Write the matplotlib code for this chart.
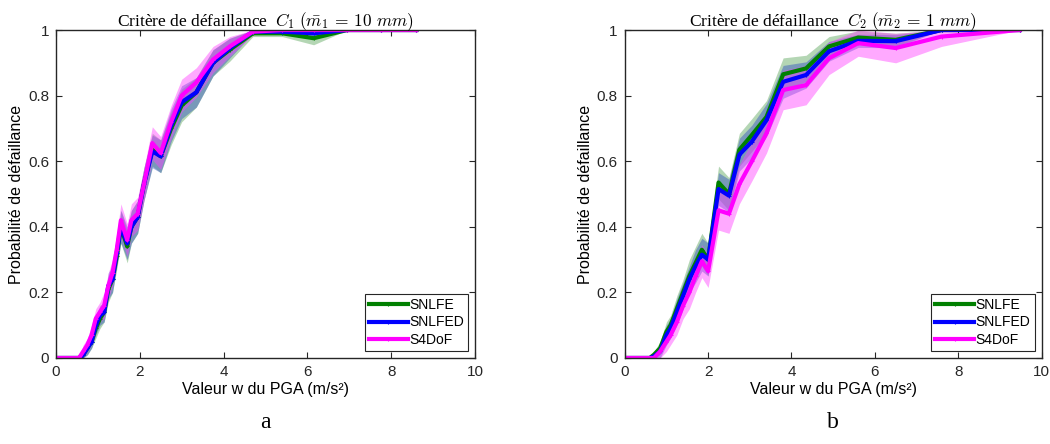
import numpy as np
import matplotlib
matplotlib.use('Agg')
import matplotlib.pyplot as plt

# Courbes de fragilite - critere C1 (panneau a)
pga_a = [0, 0.1, 0.2, 0.3, 0.4, 0.5, 0.55, 0.65, 0.75, 0.85, 0.95, 1.05, 1.15, 1.25,
         1.35, 1.45, 1.55, 1.7, 1.8, 1.95, 2.1, 2.3, 2.5, 2.75, 3.0, 3.35, 3.75, 4.15,
         4.7, 5.4, 6.15, 6.95, 7.75, 8.6]
snlfe_a = [0, 0, 0, 0, 0, 0, 0, 0.01, 0.03, 0.05, 0.09, 0.12, 0.14, 0.21, 0.24, 0.31,
           0.40, 0.34, 0.40, 0.43, 0.53, 0.635, 0.615, 0.70, 0.77, 0.81, 0.90, 0.94,
           0.99, 0.99, 0.975, 1.0, 1.0, 1.0]
snlfed_a = [0, 0, 0, 0, 0, 0, 0, 0.01, 0.03, 0.05, 0.10, 0.13, 0.14, 0.22, 0.24, 0.32,
            0.40, 0.35, 0.40, 0.43, 0.53, 0.63, 0.615, 0.71, 0.78, 0.81, 0.90, 0.945,
            0.995, 0.995, 0.99, 1.0, 1.0, 1.0]
s4dof_a = [0, 0, 0, 0, 0, 0, 0, 0.02, 0.04, 0.07, 0.12, 0.14, 0.16, 0.22, 0.26, 0.33,
           0.42, 0.36, 0.42, 0.44, 0.53, 0.655, 0.625, 0.72, 0.80, 0.84, 0.91, 0.95,
           0.995, 1.0, 1.0, 1.0, 1.0, 1.0]
# demi-largeur des bandes de confiance
ic_snlfe_a = [0, 0, 0, 0, 0, 0, 0, 0.01, 0.02, 0.02, 0.03, 0.03, 0.03, 0.04, 0.04, 0.04,
              0.05, 0.05, 0.05, 0.05, 0.05, 0.05, 0.05, 0.05, 0.05, 0.045, 0.04, 0.035,
              0.01, 0.01, 0.02, 0, 0, 0]
ic_snlfed_a = [0, 0, 0, 0, 0, 0, 0, 0.01, 0.02, 0.02, 0.03, 0.03, 0.03, 0.04, 0.04, 0.04,
               0.05, 0.05, 0.05, 0.05, 0.05, 0.05, 0.05, 0.05, 0.05, 0.045, 0.04, 0.03,
               0.005, 0.005, 0.01, 0, 0, 0]
ic_s4dof_a = [0, 0, 0, 0, 0, 0, 0, 0.02, 0.02, 0.03, 0.03, 0.03, 0.04, 0.04, 0.04, 0.05,
              0.05, 0.05, 0.05, 0.05, 0.05, 0.05, 0.05, 0.05, 0.05, 0.045, 0.04, 0.03,
              0.01, 0.005, 0, 0, 0, 0]

# Courbes de fragilite - critere C2 (panneau b)
pga_b = [0, 0.1, 0.2, 0.3, 0.4, 0.5, 0.6, 0.7, 0.85, 1.0, 1.1, 1.25, 1.4, 1.55, 1.7,
         1.85, 2.0, 2.25, 2.5, 2.75, 3.05, 3.4, 3.8, 4.35, 4.9, 5.6, 6.5, 7.6, 9.47]
snlfe_b = [0, 0, 0, 0, 0, 0, 0, 0.01, 0.03, 0.08, 0.10, 0.15, 0.20, 0.25, 0.29, 0.33,
           0.30, 0.535, 0.50, 0.635, 0.68, 0.735, 0.865, 0.883, 0.95, 0.977, 0.97, 1.0, 1.0]
snlfed_b = [0, 0, 0, 0, 0, 0, 0, 0.005, 0.02, 0.07, 0.09, 0.14, 0.19, 0.24, 0.28, 0.315,
            0.30, 0.515, 0.495, 0.62, 0.66, 0.725, 0.842, 0.863, 0.935, 0.967, 0.966, 1.0, 1.0]
s4dof_b = [0, 0, 0, 0, 0, 0, 0, 0, 0.02, 0.05, 0.07, 0.11, 0.16, 0.20, 0.25, 0.295,
           0.265, 0.45, 0.44, 0.53, 0.60, 0.685, 0.817, 0.832, 0.914, 0.96, 0.945, 0.98, 1.0]
ic_snlfe_b = [0, 0, 0, 0, 0, 0, 0, 0.01, 0.02, 0.03, 0.03, 0.04, 0.04, 0.05, 0.05, 0.05,
              0.05, 0.05, 0.05, 0.05, 0.05, 0.05, 0.05, 0.04, 0.03, 0.02, 0.02, 0, 0]
ic_snlfed_b = [0, 0, 0, 0, 0, 0, 0, 0.01, 0.02, 0.03, 0.03, 0.04, 0.04, 0.04, 0.05, 0.05,
               0.05, 0.05, 0.05, 0.05, 0.05, 0.05, 0.05, 0.04, 0.03, 0.02, 0.02, 0, 0]
ic_s4dof_b = [0, 0, 0, 0, 0, 0, 0, 0.01, 0.02, 0.03, 0.03, 0.04, 0.04, 0.05, 0.05, 0.05,
              0.05, 0.06, 0.06, 0.06, 0.06, 0.06, 0.06, 0.06, 0.05, 0.04, 0.045, 0.03, 0]

noms = ['SNLFE', 'SNLFED', 'S4DoF']
couleurs = ['#008000', '#0000ff', '#ff00ff']
couleurs_bande = ['#5aa55a', '#3050c0', '#ff40ff']
titres = [r'Critère de défaillance  $C_1$ $(\bar{m}_1\,=\,10\ mm)$',
          r'Critère de défaillance  $C_2$ $(\bar{m}_2\,=\,1\ mm)$']
lettres = ['a', 'b']

plt.rcParams['mathtext.fontset'] = 'cm'
plt.rcParams['font.family'] = 'Liberation Sans'

fig = plt.figure(figsize=(10.5, 4.44), dpi=100)
ax1 = fig.add_axes([0.0533, 0.1937, 0.399, 0.7387])
ax2 = fig.add_axes([0.595, 0.1937, 0.397, 0.7387])

panneaux = [
    (ax1, pga_a, [snlfe_a, snlfed_a, s4dof_a], [ic_snlfe_a, ic_snlfed_a, ic_s4dof_a]),
    (ax2, pga_b, [snlfe_b, snlfed_b, s4dof_b], [ic_snlfe_b, ic_snlfed_b, ic_s4dof_b]),
]

for k, (ax, x, series, ics) in enumerate(panneaux):
    x = np.asarray(x)
    # bandes d'abord
    for y, ic, cb in zip(series, ics, couleurs_bande):
        y = np.asarray(y)
        ic = np.asarray(ic)
        ax.fill_between(x, np.clip(y - ic, 0, 1), np.clip(y + ic, 0, 1),
                        color=cb, alpha=0.45, linewidth=0)
    for y, c, nom in zip(series, couleurs, noms):
        ax.plot(x, y, color=c, linewidth=3, marker='+', markersize=3,
                markeredgewidth=0.8, label=nom)
    ax.set_xlim(0, 10)
    ax.set_ylim(0, 1)
    ax.set_xticks([0, 2, 4, 6, 8, 10])
    ax.set_yticks([0, 0.2, 0.4, 0.6, 0.8, 1])
    ax.set_yticklabels(['0', '0.2', '0.4', '0.6', '0.8', '1'])
    ax.tick_params(direction='in', top=True, right=True, labelsize=11,
                   length=4, width=0.8, colors='#262626', pad=5)
    for sp in ax.spines.values():
        sp.set_color('#262626')
        sp.set_linewidth(1.0)
    ax.set_xlabel('Valeur w du PGA (m/s²)', fontsize=11.5, labelpad=2)
    ax.set_ylabel('Probabilité de défaillance', fontsize=11.5, labelpad=3)
    ax.set_title(titres[k], fontsize=12.5, family='Liberation Serif', pad=3)
    leg = ax.legend(loc='lower right', fontsize=10, handlelength=2.8,
                    handletextpad=0.1, borderpad=0.3, labelspacing=0.25,
                    fancybox=False, framealpha=1, borderaxespad=0.5)
    leg.get_frame().set_edgecolor('#262626')
    leg.get_frame().set_linewidth(0.8)
    fig.text((ax.get_position().x0 + ax.get_position().x1) / 2, 0.025, lettres[k],
             ha='center', va='bottom', fontsize=17, family='Liberation Serif')

fig.savefig('out.png', dpi=100)
